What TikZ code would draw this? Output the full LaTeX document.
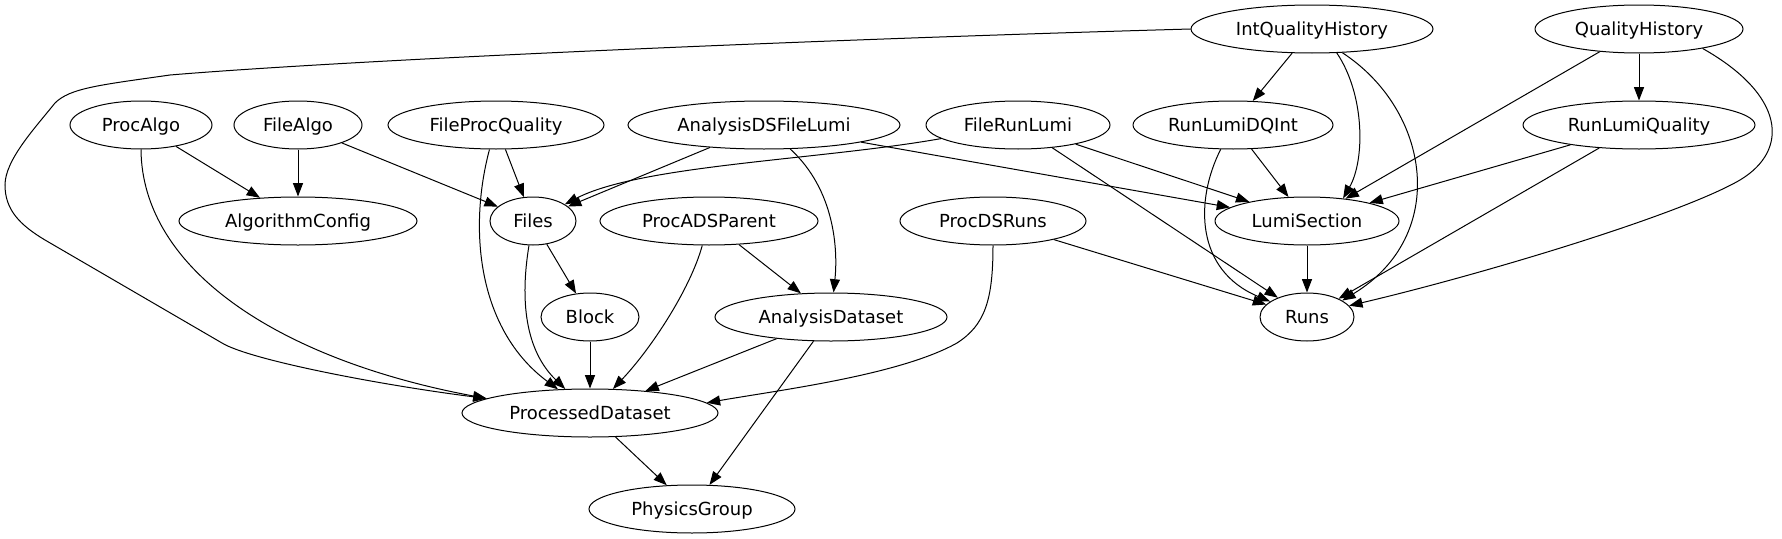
\documentclass[tikz,border=0pt]{standalone}
\usepackage{fontspec}
\setmainfont{DejaVu Sans}
\usetikzlibrary{shapes.geometric,arrows.meta}
\tikzset{
  n/.style={draw, ellipse, inner sep=0pt, minimum height=36pt, line width=0.75pt,
    font=\fontsize{13.5pt}{16pt}\selectfont, text height=9.8pt, text depth=0pt},
  hw/.style={minimum width=#1*1.5pt},
  e/.style={draw, line width=0.75pt, -{Triangle[length=10pt,width=7.5pt]}}
}
\begin{document}
\begin{tikzpicture}[x=0.75pt, y=-0.75pt]
\useasboundingbox (0,0) rectangle (1782,539);
% nodes
\node[n, hw=121] (IQH)   at (1312,29)  {IntQualityHistory};
\node[n, hw=104] (QH)    at (1639,29)  {QualityHistory};
\node[n, hw=71]  (PA)    at (141,125)  {ProcAlgo};
\node[n, hw=64]  (FA)    at (298,125)  {FileAlgo};
\node[n, hw=108] (FPQ)   at (496,125)  {FileProcQuality};
\node[n, hw=136] (ADSFL) at (764,125)  {AnalysisDSFileLumi};
\node[n, hw=92]  (FRL)   at (1018,125) {FileRunLumi};
\node[n, hw=100] (RLDQ)  at (1233,125) {RunLumiDQInt};
\node[n, hw=116] (RLQ)   at (1639,125) {RunLumiQuality};
\node[n, hw=119] (AC)    at (298,221)  {AlgorithmConfig};
\node[n, hw=43]  (Files) at (533,221)  {Files};
\node[n, hw=109] (PADSP) at (709,221)  {ProcADSParent};
\node[n, hw=93]  (PDSR)  at (993,221)  {ProcDSRuns};
\node[n, hw=92]  (LS)    at (1307,221) {LumiSection};
\node[n, hw=49]  (Block) at (590,317)  {Block};
\node[n, hw=116] (AD)    at (831,317)  {AnalysisDataset};
\node[n, hw=47]  (Runs)  at (1307,317) {Runs};
\node[n, hw=128] (PD)    at (590,413)  {ProcessedDataset};
\node[n, hw=103] (PG)    at (692,509)  {PhysicsGroup};
% edges
\draw[e] (IQH.west) .. controls (800,40) and (350,60) .. (170,75)
  .. controls (100,85) and (70,88) .. (55,103)
  .. controls (35,128) and (5,160) .. (5,185)
  .. controls (5,210) and (20,225) .. (45,240)
  -- (222,343)
  .. controls (250,360) and (380,385) .. (PD.172);
\draw[e] (IQH) -- (RLDQ);
\draw[e] (IQH.316) .. controls (1365,95) and (1365,160) .. (LS.32);
\draw[e] (IQH.322) .. controls (1430,110) and (1450,235) .. (Runs.25);
\draw[e] (QH) -- (RLQ);
\draw[e] (QH) -- (LS);
\draw[e] (QH.343) .. controls (1785,95) and (1790,150) .. (1740,180)
  .. controls (1680,215) and (1480,275) .. (Runs.15);
\draw[e] (PA) -- (AC);
\draw[e] (PA.south) .. controls (142,270) and (280,360) .. (PD.172);
\draw[e] (FA) -- (AC);
\draw[e] (FA) -- (Files);
\draw[e] (FPQ) -- (Files);
\draw[e] (FPQ) .. controls (468,230) and (478,330) .. (PD);
\draw[e] (ADSFL) -- (Files);
\draw[e] (ADSFL) -- (LS);
\draw[e] (ADSFL) .. controls (835,190) and (838,250) .. (AD);
\draw[e] (FRL) .. controls (820,160) and (640,165) .. (Files);
\draw[e] (FRL) -- (LS);
\draw[e] (FRL) -- (Runs);
\draw[e] (RLDQ) -- (LS);
\draw[e] (RLDQ) .. controls (1195,200) and (1195,270) .. (Runs);
\draw[e] (RLQ) -- (LS);
\draw[e] (RLQ) -- (Runs);
\draw[e] (Files) -- (Block);
\draw[e] (Files) .. controls (520,300) and (525,350) .. (PD);
\draw[e] (PADSP) -- (AD);
\draw[e] (PADSP) .. controls (690,290) and (650,350) .. (PD);
\draw[e] (PDSR) -- (Runs);
\draw[e] (PDSR.south) .. controls (993,300) and (985,325) .. (957,343)
  .. controls (900,375) and (780,390) .. (PD.5);
\draw[e] (LS) -- (Runs);
\draw[e] (Block) -- (PD);
\draw[e] (AD) -- (PD);
\draw[e] (AD) -- (PG);
\draw[e] (PD) -- (PG);
\end{tikzpicture}
\end{document}
